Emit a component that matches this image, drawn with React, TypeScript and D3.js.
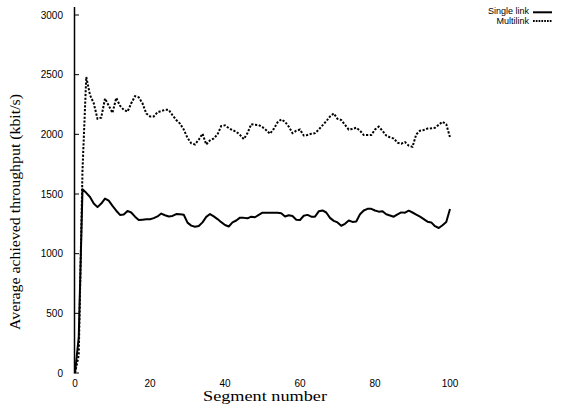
import React from "react";
import * as d3 from "d3";

const segments: number[] = Array.from({ length: 101 }, (_, i) => i);

const singleLink: number[] = [
  0, 300, 1540, 1510, 1475, 1420, 1390, 1420, 1462, 1445,
  1400, 1360, 1325, 1328, 1358, 1345, 1310, 1282, 1285, 1288,
  1288, 1298, 1312, 1336, 1322, 1312, 1316, 1332, 1331, 1326,
  1260, 1235, 1226, 1232, 1262, 1308, 1332, 1312, 1290, 1264,
  1240, 1228, 1262, 1278, 1302, 1300, 1296, 1310, 1305, 1325,
  1343, 1343, 1343, 1343, 1343, 1338, 1312, 1322, 1315, 1284,
  1282, 1318, 1325, 1310, 1310, 1355, 1362, 1345, 1300, 1275,
  1262, 1234, 1250, 1278, 1266, 1270, 1330, 1362, 1376, 1376,
  1362, 1352, 1356, 1330, 1320, 1310, 1330, 1346, 1343, 1360,
  1345, 1328, 1310, 1290, 1268, 1262, 1230, 1215, 1238, 1265,
  1375,
];

const multilink: number[] = [
  0, 150, 1700, 2480, 2330, 2260, 2130, 2140, 2300, 2240,
  2180, 2305, 2240, 2205, 2190, 2260, 2320, 2310, 2260, 2175,
  2150, 2150, 2185, 2195, 2205, 2205, 2160, 2120, 2090, 2040,
  1970, 1925, 1915, 1955, 2005, 1915, 1950, 1965, 2000, 2070,
  2075, 2052, 2035, 2022, 1995, 1960, 2010, 2085, 2080, 2078,
  2060, 2035, 2005, 2045, 2100, 2125, 2105, 2065, 2010, 2030,
  2040, 1990, 1995, 2005, 2010, 2040, 2075, 2110, 2150, 2175,
  2130, 2120, 2080, 2040, 2045, 2056, 2030, 1994, 1994, 1994,
  2040, 2064, 2030, 1990, 1975, 1965, 1930, 1922, 1935, 1905,
  1895, 2000, 2030, 2036, 2048, 2051, 2055, 2080, 2105, 2085,
  1975,
];

const xTicks: number[] = [0, 20, 40, 60, 80, 100];
const yTicks: number[] = [0, 500, 1000, 1500, 2000, 2500, 3000];
const seriesNames: string[] = ["Single link", "Multilink"];

export default function App() {
  const W = 587;
  const H = 416;
  const x = d3.scaleLinear().domain([0, 100]).range([75, 450]);
  const y = d3.scaleLinear().domain([0, 3000]).range([373, 15]);

  const line = d3
    .line<number>()
    .x((_, i) => x(segments[i]))
    .y((d) => y(d));

  const sans = "'Liberation Sans', Arial, sans-serif";
  const serif = "'Liberation Serif', 'Times New Roman', serif";

  return (
    <svg
      width={W}
      height={H}
      style={{ position: "absolute", left: 0, top: 0, background: "#fff" }}
    >
      {/* y axis */}
      <line x1={74.5} x2={74.5} y1={7} y2={373.5} stroke="#000" strokeWidth={1.5} />
      {yTicks.map((t) => (
        <g key={t}>
          <line x1={74.5} x2={79} y1={y(t)} y2={y(t)} stroke="#000" strokeWidth={1} />
          <text
            x={63}
            y={y(t)}
            dy="0.35em"
            textAnchor="end"
            fontFamily={sans}
            fontSize={10}
          >
            {t}
          </text>
        </g>
      ))}
      {xTicks.map((t) => (
        <text
          key={t}
          x={x(t)}
          y={387}
          textAnchor="middle"
          fontFamily={sans}
          fontSize={10}
        >
          {t}
        </text>
      ))}
      <text
        x={265}
        y={401}
        textAnchor="middle"
        fontFamily={serif}
        fontSize={14.5}
        textLength={124}
        lengthAdjust="spacingAndGlyphs"
      >
        Segment number
      </text>
      <text
        transform={`translate(20,212) rotate(-90)`}
        textAnchor="middle"
        fontFamily={serif}
        fontSize={15.5}
        textLength={236}
        lengthAdjust="spacingAndGlyphs"
      >
        Average achieved throughput (kbit/s)
      </text>

      {/* series */}
      <path d={line(singleLink) || ""} fill="none" stroke="#000" strokeWidth={2} strokeLinejoin="round" />
      <path
        d={line(multilink) || ""}
        fill="none"
        stroke="#000"
        strokeWidth={2}
        strokeDasharray="2.2,1.6"
      />

      {/* legend */}
      <text x={529} y={10.7} dy="0.35em" textAnchor="end" fontFamily={sans} fontSize={9}>
        {seriesNames[0]}
      </text>
      <line x1={533} x2={552} y1={12.3} y2={12.3} stroke="#000" strokeWidth={2} />
      <text x={529} y={21.2} dy="0.35em" textAnchor="end" fontFamily={sans} fontSize={9}>
        {seriesNames[1]}
      </text>
      <line
        x1={533}
        x2={552}
        y1={21}
        y2={21}
        stroke="#000"
        strokeWidth={2}
        strokeDasharray="1.7,1.1"
      />
    </svg>
  );
}
